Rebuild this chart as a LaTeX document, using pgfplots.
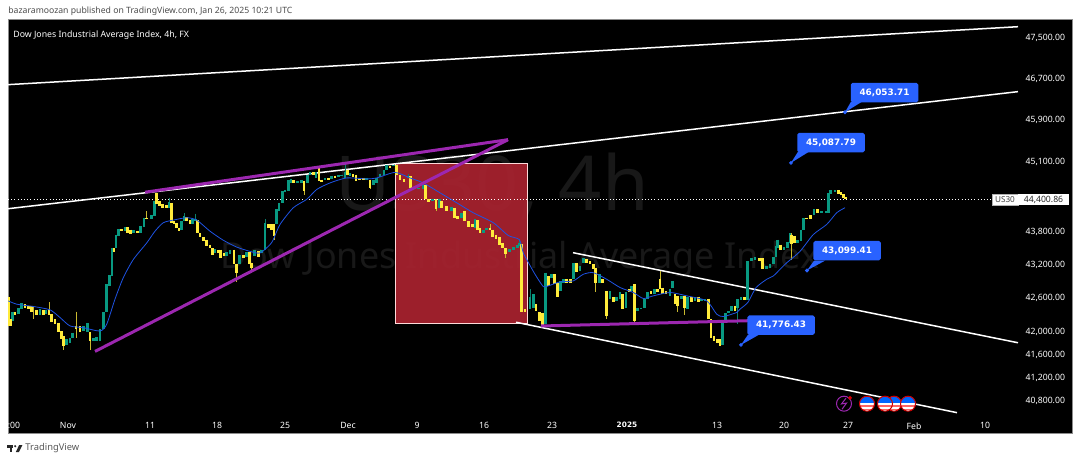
\documentclass[border=0pt]{standalone}
\usepackage{fontspec}
\setmainfont{Noto Sans}
\newfontfamily\labfont{DejaVu Sans}[BoldFont=DejaVu Sans Bold]
\usepackage{pgfplots}
\usepackage{pgfplotstable}
\pgfplotsset{compat=1.18}

\definecolor{upc}{HTML}{089981}
\definecolor{dnc}{HTML}{FFEB3B}
\definecolor{wup}{HTML}{0A7F6C}
\definecolor{wdn}{HTML}{C9B92F}
\definecolor{ema}{HTML}{1E53E5}
\definecolor{tvblue}{HTML}{2962FF}
\definecolor{pur}{HTML}{9C27B0}
\definecolor{boxred}{HTML}{A8222F}
\definecolor{wm}{HTML}{181818}

% x is the pixel column of the bar, prices are read off the log scale
% the picture is drawn at half size (1 px = 0.5bp): a full size log axis overflows TeX dimensions
\pgfplotstableread{
x top bot
15 42347 42300
25 42496 42436
28.3 42466 42407
31.7 42466 42347
36.7 42389 42306
43.3 42395 42300
49 42407 42300
51.7 42318 42181
55 42229 42140
58.3 42169 42003
61.7 42021 41872
63.7 41932 41754
76 42110 42050
80 42110 42003
90 42003 41843
8.8 42615 42110
10.7 42229 42110
114 43507 43429
121.7 43858 43815
127.3 43889 43785
130.7 43846 43772
137.3 43815 43785
146.7 44062 44031
156.7 44525 44309
159.3 44371 44278
162.7 44309 44247
166.7 44290 44247
171.3 44340 43970
174 44000 43939
176.7 43957 43877
179 43877 43815
186.7 44074 44000
190 44013 43939
197.3 44013 43785
200 43785 43711
203.3 43711 43630
206.7 43661 43538
210 43568 43507
212.7 43507 43387
218.3 43476 43417
220.7 43476 43327
224 43417 43357
234 43476 43209
236.7 43209 43060
243.3 43387 43327
249.3 43429 43209
251.7 43238 43149
258.3 43446 43345
268.3 43939 43877
271.7 43939 43846
274 43939 43723
293.3 44759 44710
304 44741 44556
313.3 44907 44864
319 44988 44741
321.7 44772 44729
328.3 44803 44759
335 44846 44803
347.3 44957 44864
353 44870 44821
356 44864 44741
359.3 44803 44759
363.3 44803 44759
370 44772 44617
390 45037 44988
396.7 45050 44864
400 44864 44772
404 44784 44729
410.7 44833 44617
414 44630 44587
425.7 44679 44402
428.3 44402 44352
436 44402 44217
441.7 44371 44247
446.7 44278 44186
454.3 44247 44062
457.3 44093 44044
464.7 44186 44000
468.3 44000 43896
472.3 43939 43896
477.3 44019 43846
480 43877 43785
490 43877 43834
492.7 43846 43711
496 43754 43673
499.3 43711 43568
502.7 43599 43507
505.7 43507 43405
521.7 43581 42347
525 42407 42347
536 42496 42377
539.3 42347 42199
542.3 42335 42098
548.3 43001 42822
554.3 43031 42852
557.3 42882 42615
566.7 42941 42882
570.7 42941 42870
576.7 43238 43072
586.7 43310 43238
590 43268 43209
593.3 43209 43120
595.7 43149 42882
602.7 42953 42882
606.7 42734 42288
613.3 42615 42526
622.7 42674 42407
629.3 42763 42704
634.3 42852 42199
651 42734 42674
657.7 42763 42704
660 42953 42763
662.7 42793 42674
666 42734 42674
675 42674 42496
677.7 42644 42466
684.3 42644 42436
691.7 42615 42526
698.3 42632 42526
708.3 42597 42229
711 42229 41902
714 41932 41843
717.3 41872 41813
720 41872 41754
735 42466 42377
744.3 42615 42573
759.3 43327 43268
762.7 43327 43120
780.7 43568 43476
791.7 43754 43587
794.3 43723 43599
806.7 44062 44031
810.7 44105 44044
817.3 44216 44155
838.3 44574 44512
841 44537 44475
843.3 44494 44432
845.7 44451 44400
}\downbars

\pgfplotstableread{
x top bot
12.7 42347 42199
18.3 42436 42318
21.7 42514 42407
40 42407 42306
46 42395 42318
66.7 41872 41783
70 41902 41813
72.7 41991 41902
83.3 42110 42021
87.3 42157 42003
93.3 41902 41843
96.7 41914 41843
100 42050 41843
103.3 42347 42050
106.7 42852 42347
109.3 43013 42823
112 43507 43001
116 43754 43507
118.7 43858 43723
125 43889 43815
133.3 43828 43785
140.7 43908 43785
144 44062 43896
151.7 44105 44044
154.3 44371 44093
169 44352 44247
181.7 44000 43846
184 44093 44000
192.7 44031 43939
195.3 44044 44000
215 43488 43417
226.7 43429 43369
230 43476 43405
239.3 43387 43209
246.7 43429 43345
254.3 43476 43357
261.7 43476 43417
265 43970 43476
276.7 44217 43939
279 44340 44186
282.3 44556 44340
285 44574 44544
288.3 44772 44556
291 44784 44710
297.3 44741 44710
301.7 44772 44710
307.3 44864 44710
310 44907 44864
316 44907 44803
325 44803 44759
331.7 44846 44784
338.3 44864 44821
341.7 44864 44833
345 44907 44803
350 44895 44833
366.7 44803 44772
373.3 44772 44679
376.7 44803 44710
380 44883 44821
384 44957 44864
386.7 45050 44957
393.3 45050 45019
408.3 44833 44803
418.3 44617 44587
423.3 44679 44587
432.7 44414 44371
439.3 44414 44247
451.7 44266 44186
461.7 44155 44062
475 44031 43877
483.3 43846 43785
486.7 43865 43834
509.3 43495 43429
513.3 43525 43476
517.3 43568 43507
519.3 43599 43538
530 42615 42407
533.3 42674 42436
545.7 43060 42140
551.7 43031 42971
560.7 42912 42734
563.3 42941 42882
573.3 43238 42941
580 43179 43090
583.3 43327 43238
599.3 43031 42882
610 42734 42585
616.7 42615 42555
620 42704 42585
626 42704 42436
631.7 42822 42734
637.7 42436 42377
641 42436 42407
644.3 42585 42419
647.7 42704 42585
654.3 42763 42674
670 42763 42644
672.7 42912 42793
681.7 42644 42585
687.7 42615 42407
695 42615 42555
701.7 42585 42545
705 42585 42545
722.7 42169 41783
725.3 42335 42169
728.3 42377 42335
731.7 42466 42377
737.7 42585 42436
741 42615 42573
747.3 43268 42573
751.7 43327 43268
755 43345 43298
766.7 43179 43120
770 43208 43149
773.3 43345 43208
776 43538 43345
777.7 43661 43507
784 43525 43476
787.3 43620 43507
790 43785 43599
797.3 43649 43599
801 43846 43630
803.3 44062 43846
814 44216 44105
821.7 44186 44142
826 44186 44142
828.3 44525 44155
830.7 44574 44512
835 44574 44537
}\upbars

\pgfplotstableread{
x top bot
33.3 42466 42229
49 42526 42300
76 42365 41902
90 42003 41694
63.7 41932 41690
146.7 44186 44031
236.7 43209 42894
251.7 43238 43090
274 43939 43650
304 44741 44490
319 44988 44741
370 44772 44587
436 44402 44186
490 43940 43834
505.7 43507 43330
595.7 43149 42704
606.7 42734 42229
634.3 42852 42140
660 43090 42763
677.7 42644 42347
684.3 42644 42300
791.7 43785 43298
}\downwicks

\pgfplotstableread{
x top bot
169 44432 44247
184 44155 44000
195.3 44136 44000
265 44044 43476
345 45068 44803
408.3 44880 44803
423.3 44740 44587
519.3 43671 43538
530 42763 42407
737.7 42585 42140
}\upwicks

\pgfplotstableread{
x p
8.3 42555
16.7 42496
33.3 42454
50 42395
60 42258
70 42110
83.3 42080
100 42021
106.7 42140
115 42585
123.3 42971
133.3 43298
146.7 43599
155 43815
163.3 43970
173.3 44019
186.7 44062
196.7 44019
210 43815
223.3 43649
236.7 43525
250 43446
260 43417
270 43568
273.3 43661
280 43939
293.3 44247
306.7 44402
316.7 44587
330 44710
346.7 44803
366.7 44784
376.7 44803
395 44907
410 44803
423.3 44710
440 44525
456.7 44340
473.3 44155
493.3 43970
508.3 43735
519.3 43661
523.3 43417
526.7 43298
535 43031
543.3 42810
548 42822
560 42894
573.3 42912
583.3 43031
593.3 43060
606.7 42941
620 42793
633.3 42704
643.3 42597
653.3 42644
670 42704
686.7 42644
706.7 42555
716.7 42318
723.3 42276
736.7 42347
740 42407
748 42530
756 42790
766.7 42941
773.3 43001
780 43120
786.7 43238
800 43446
813.3 43754
826.7 43939
836.7 44155
845 44247
}\emaline

\newcommand\barset[3]{% table, colour, width
  \addplot[draw=none,mark=none,forget plot,
    error bars/.cd,y dir=minus,y explicit,error mark=none,
    error bar style={line width=#3,color=#2,line cap=butt}]
    table[x=x,y=top,y error minus expr=\thisrow{top}-\thisrow{bot}] {#1};
}
\newcommand\usflag[1]{%
  \node[circle,draw=red!80!black,line width=0.5bp,minimum size=7.5bp,inner sep=0pt,fill=white,
    path picture={
      \fill[red!60!white] ([yshift=-0.75bp]path picture bounding box.west) rectangle ([yshift=-1.6bp]path picture bounding box.east);
      \fill[red!60!white] ([yshift=-2.6bp]path picture bounding box.west) rectangle ([yshift=-3.4bp]path picture bounding box.east);
      \fill[blue!60!cyan] (path picture bounding box.north west) rectangle ([yshift=0.2bp]path picture bounding box.east);
    }] at (axis cs:#1,40760) {};
}
\newcommand\callout[8]{% box x, box y price, text, tip x, tip price, base price, base left, base right
  \addplot[fill=tvblue,draw=none,forget plot] coordinates {(#4,#5) (#7,#6) (#8,#6)} -- cycle;
  \addplot[only marks,mark=*,mark size=0.75bp,color=tvblue,forget plot] coordinates {(#4,#5)};
  \node[fill=tvblue,rounded corners=0.9bp,minimum width=33.75bp,minimum height=9.75bp,inner sep=0pt,
    text=white,font=\labfont\fontsize{4.45}{5}\selectfont\bfseries] at (axis cs:#1,#2) {#3};
}

\begin{document}
\begin{tikzpicture}
\useasboundingbox (-4bp,-13.5bp) rectangle (536bp,217bp);
\fill[white] (-4bp,-13.5bp) rectangle (536bp,217bp);
\begin{axis}[
  at={(0,0)},anchor=south west,
  scale only axis,width=532bp,height=207bp,
  xmin=8,xmax=1072,
  ymode=log,ymin=40251,ymax=47874,
  axis background/.style={fill=black},
  axis line style={draw=black!45,line width=0.5bp},
  tick style={draw=none},
  major tick length=0pt,
  minor y tick num=0,
  xtick={14,68,150,217,285,348,417,484,552,627,717,784,848,914,985},
  xticklabels={:00,Nov,11,18,25,Dec,9,16,23,{\labfont\fontsize{3.7}{5}\selectfont\bfseries 2025},13,20,27,Feb,10},
  ytick={47500,46700,45900,45100,43800,43200,42600,42000,41600,41200,40800},
  yticklabels={{47,500.00},{46,700.00},{45,900.00},{45,100.00},{43,800.00},{43,200.00},{42,600.00},{42,000.00},{41,600.00},{41,200.00},{40,800.00}},
  yticklabel pos=right,
  x tick label style={text=white,font=\fontsize{4.35}{5}\selectfont,yshift=9.1bp},
  y tick label style={text=white,font=\fontsize{4.35}{5}\selectfont,anchor=east,xshift=0bp},
]
% watermark
\node[text=wm,font=\fontsize{38}{42}\selectfont] at (axis cs:492,44640) {US30, 4h};
\node[text=wm,font=\fontsize{18}{20}\selectfont] at (axis cs:520,43298) {Dow Jones Industrial Average Index};
% short box
\addplot[fill=boxred,fill opacity=0.93,draw=white!85!red,line width=0.45bp,forget plot]
  coordinates {(395.5,45081) (527,45081) (527,42158) (395.5,42158)} -- cycle;
% trend lines
\addplot[white,line width=0.75bp,forget plot] coordinates {(8,46588) (1018,47734)};
\addplot[white,line width=0.75bp,forget plot] coordinates {(8,44230) (1018,46452)};
\addplot[white,line width=0.75bp,forget plot] coordinates {(573,43422) (1018,41815)};
\addplot[white,line width=0.75bp,forget plot] coordinates {(516,42175) (957,40607)};
% last price
\addplot[white,line width=0.5bp,dash pattern=on 0.5bp off 1.1bp,forget plot] coordinates {(8,44400.86) (992,44400.86)};
% candles
\barset{\downwicks}{wdn}{0.35bp}
\barset{\upwicks}{wup}{0.35bp}
\barset{\upbars}{upc}{1.3bp}
\barset{\downbars}{dnc}{1.3bp}
% moving average
\addplot[ema,line width=0.4bp,smooth,tension=0.4,forget plot] table[x=x,y=p] {\emaline};
% wedge and support
\addplot[pur,line width=1.5bp,forget plot] coordinates {(145,44536) (508,45527)};
\addplot[pur,line width=1.5bp,forget plot] coordinates {(95,41663) (508,45527)};
\addplot[pur,line width=1.5bp,forget plot] coordinates {(541,42109) (748,42202)};
% target labels
\callout{884.5}{46432}{46,053.71}{845}{46053.71}{46257}{851}{862}
\callout{831}{45470}{45,087.79}{791}{45087.79}{45298}{798}{809}
\callout{847}{43458}{43,099.41}{807}{43099.41}{43277}{814}{825}
\callout{781}{42123}{41,776.43}{741}{41776.43}{41956}{748}{759}
% event icons
\node[circle,draw=pur,line width=0.5bp,minimum size=7.5bp,inner sep=0pt] at (axis cs:844,40760) {};
\addplot[pur,line width=0.5bp,forget plot] coordinates {(846,40855) (841.5,40755) (846.5,40770) (842,40665)};
\addplot[only marks,mark=*,mark size=0.75bp,color=red!85!black,forget plot] coordinates {(850,40860)};
\usflag{894}
\usflag{867}
\usflag{885}
\usflag{908}
% price tag
\node[fill=white,draw=black!30,line width=0.2bp,minimum width=13bp,minimum height=5.75bp,inner sep=0pt,text=black!75,font=\fontsize{4.1}{4.5}\selectfont] at (axis cs:1005,44400.86) {US30};
\node[fill=white,minimum width=25.5bp,minimum height=5.75bp,inner sep=0pt,text=black!85,font=\fontsize{4.35}{5}\selectfont] at (axis cs:1043.5,44400.86) {44,400.86};
% chart title
\node[anchor=west,text=white,font=\fontsize{4.4}{5}\selectfont,inner sep=0pt] at (axis cs:13,47570) {Dow Jones Industrial Average Index, 4h, FX};
\end{axis}
% publisher line and logo
\node[anchor=west,text=black!70,font=\fontsize{4.35}{5}\selectfont,inner sep=0pt] at (0bp,211.5bp) {bazaramoozan published on TradingView.com, Jan 26, 2025 10:21 UTC};
\fill[black!85] (-0.5bp,-6.75bp) rectangle (2.7bp,-5.5bp);
\fill[black!85] (0.8bp,-5.5bp) rectangle (2bp,-9bp);
\fill[black!85] (3.6bp,-6.1bp) circle (0.6bp);
\fill[black!85] (3.9bp,-9bp) -- (5.6bp,-5.5bp) -- (7.2bp,-5.5bp) -- (5.5bp,-9bp) -- cycle;
\node[anchor=west,text=black!65,font=\fontsize{4.7}{6}\selectfont,inner sep=0pt] at (8.5bp,-7.25bp) {TradingView};
\end{tikzpicture}
\end{document}
